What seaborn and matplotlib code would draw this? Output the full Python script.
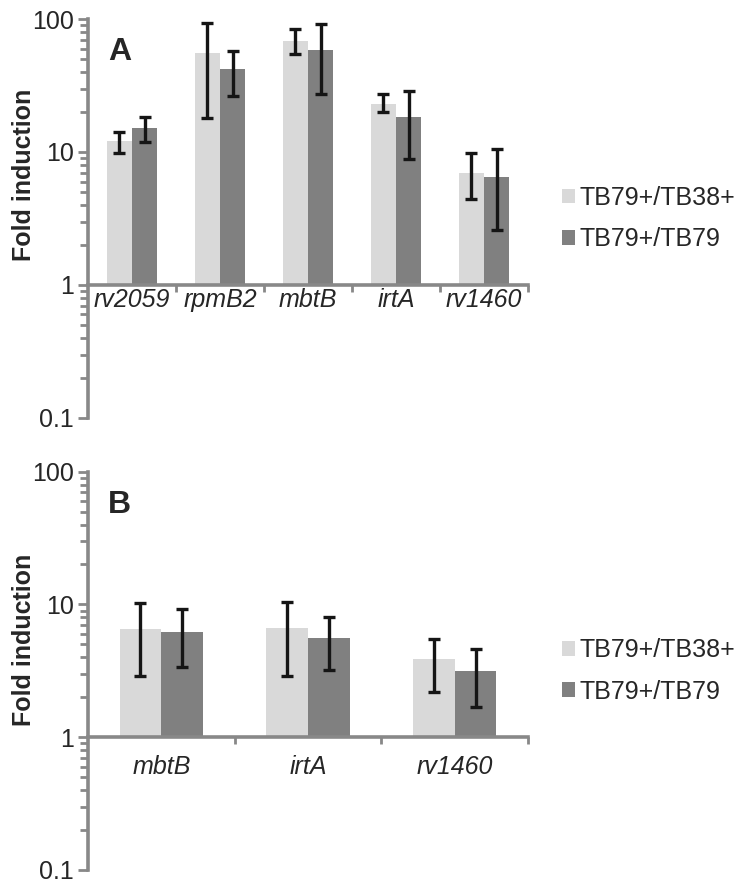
import numpy as np
import pandas as pd
import seaborn as sns
import matplotlib.pyplot as plt
from matplotlib.ticker import FixedLocator

# Значения (fold induction)
groups = ["TB79+/TB38+", "TB79+/TB79"]
colors = ["#d9d9d9", "#808080"]

genes_a = ["rv2059", "rpmB2", "mbtB", "irtA", "rv1460"]
tb38_a = [12.1, 55.2, 68.4, 23.0, 7.0]
tb38_a_lo = [9.9, 17.9, 54.3, 19.9, 4.4]
tb38_a_hi = [14.2, 92.8, 84.6, 27.3, 9.9]
tb79_a = [15.1, 41.9, 58.5, 18.2, 6.45]
tb79_a_lo = [11.8, 26.5, 27.3, 8.8, 2.6]
tb79_a_hi = [18.2, 57.8, 91.2, 28.8, 10.5]

genes_b = ["mbtB", "irtA", "rv1460"]
tb38_b = [6.5, 6.7, 3.9]
tb38_b_lo = [2.9, 2.9, 2.2]
tb38_b_hi = [10.3, 10.5, 5.5]
tb79_b = [6.2, 5.6, 3.15]
tb79_b_lo = [3.4, 3.2, 1.7]
tb79_b_hi = [9.2, 8.1, 4.6]

sns.set_style("white")
plt.rcParams["font.family"] = "Liberation Sans"
axis_grey = "#888888"
fs = 18


def panel(ax, genes, v1, lo1, hi1, v2, lo2, hi2, letter, xpad, ylab_y):
    n = len(genes)
    df = pd.DataFrame({
        "gene": genes * 2,
        "group": [groups[0]] * n + [groups[1]] * n,
        "val": v1 + v2,
        "lo": lo1 + lo2,
        "hi": hi1 + hi2,
    })
    # Excel-style log axis: bars grow from 1, so plot log10 values on a linear axis
    df["logv"] = np.log10(df["val"])
    sns.barplot(data=df, x="gene", y="logv", hue="group", order=genes, hue_order=groups,
                palette=colors, width=0.57, saturation=1, errorbar=None, ax=ax,
                linewidth=0, edgecolor="none")

    for cont, g in zip(ax.containers, groups):
        sub = df[df["group"] == g].set_index("gene").loc[genes]
        xs = [p.get_x() + p.get_width() / 2 for p in cont]
        lv = np.log10(sub["val"].to_numpy())
        yerr = [lv - np.log10(sub["lo"].to_numpy()), np.log10(sub["hi"].to_numpy()) - lv]
        ax.errorbar(xs, lv, yerr=yerr, fmt="none", ecolor="#151515",
                    elinewidth=2.4, capsize=4.5, capthick=2.4, zorder=5)

    # spines first: moving a spine resets the ticks
    for s in ["top", "right"]:
        ax.spines[s].set_visible(False)
    for s in ["left", "bottom"]:
        ax.spines[s].set_color(axis_grey)
        ax.spines[s].set_linewidth(2.6)
    ax.spines["bottom"].set_position(("data", 0))

    ax.set_ylim(-1, 2)
    ax.set_xlim(-0.5, n - 0.5)
    ax.yaxis.set_major_locator(FixedLocator([-1, 0, 1, 2]))
    ax.set_yticklabels(["0.1", "1", "10", "100"])
    minor = [np.log10(k * 10.0 ** d) for d in (-1, 0, 1) for k in range(2, 10)]
    ax.yaxis.set_minor_locator(FixedLocator(minor))
    ax.tick_params(axis="y", which="major", length=7, width=2, color=axis_grey,
                   labelsize=fs, pad=3, left=True, direction="out")
    ax.tick_params(axis="y", which="minor", length=5.5, width=2, color=axis_grey,
                   left=True, direction="out")

    ax.set_xticks(np.arange(n) + 0.5, [""] * n)
    ax.set_xticks(np.arange(n), genes, minor=True)
    ax.tick_params(axis="x", which="major", length=5, width=2, color=axis_grey,
                   direction="out", bottom=True)
    ax.tick_params(axis="x", which="minor", length=0, pad=xpad, bottom=True,
                   labelsize=fs)
    for t in ax.get_xticklabels(minor=True):
        t.set_fontstyle("italic")

    ax.set_xlabel("")
    ax.set_ylabel("Fold induction", fontsize=18, fontweight="bold")
    ax.yaxis.set_label_coords(-0.118, ylab_y)
    ax.text(0.045, 0.917, letter, transform=ax.transAxes, fontsize=23,
            fontweight="bold", va="center", ha="left")

    sns.move_legend(ax, "center left", bbox_to_anchor=(1.077, 0.5), title=None,
                    frameon=False, fontsize=fs, handlelength=0.52, handleheight=0.52,
                    handletextpad=0.2, labelspacing=0.7, borderaxespad=0, borderpad=0)


fig = plt.figure(figsize=(7.4, 8.88), dpi=100)
ax_a = fig.add_axes([0.1189, 0.5293, 0.5946, 0.4493])
ax_b = fig.add_axes([0.1189, 0.0203, 0.5946, 0.4485])

panel(ax_a, genes_a, tb38_a, tb38_a_lo, tb38_a_hi, tb79_a, tb79_a_lo, tb79_a_hi,
      "A", 2, 0.61)
panel(ax_b, genes_b, tb38_b, tb38_b_lo, tb38_b_hi, tb79_b, tb79_b_lo, tb79_b_hi,
      "B", 13, 0.578)

fig.savefig("out.png", dpi=100)
